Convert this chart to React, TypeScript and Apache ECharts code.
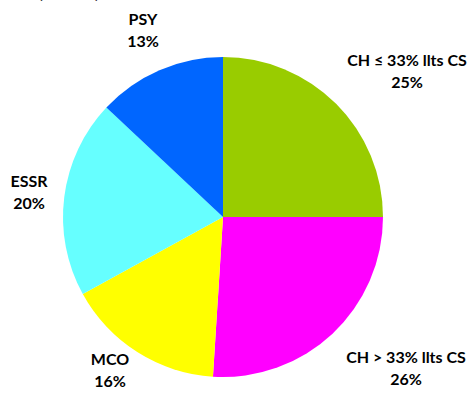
import React, { useEffect, useRef } from "react";
import * as echarts from "echarts";

const categories = ["CH ≤ 33% llts CS", "CH > 33% llts CS", "MCO", "ESSR", "PSY"];
const values = [25, 26, 16, 20, 13];
const colors = ["#99CC00", "#FF00FF", "#FFFF00", "#66FFFF", "#0066FF"];
const labelPos: [number, number][] = [
  [407, 70],
  [406, 367],
  [110, 369],
  [29, 191],
  [143, 29],
];

export default function App() {
  const ref = useRef<HTMLDivElement>(null);
  useEffect(() => {
    if (!ref.current) return;
    const chart = echarts.init(ref.current, undefined, { renderer: "svg" });
    chart.setOption({
      animation: false,
      backgroundColor: "#ffffff",
      graphic: [
        {
          type: "text",
          left: 38,
          top: -18,
          style: {
            text: "(n=151)",
            fontFamily: "Lato",
            fontWeight: "bold",
            fontSize: 18,
            fill: "#000",
          },
        },
      ],
      series: [
        {
          type: "pie",
          center: [223, 217],
          radius: 160,
          startAngle: 90,
          clockwise: true,
          avoidLabelOverlap: false,
          data: categories.map((c, i) => ({
            name: c,
            value: values[i],
            itemStyle: { color: colors[i] },
          })),
          label: {
            show: true,
            position: "outside",
            formatter: (p: any) => `${p.name}\n${p.value}%`,
            fontFamily: "Lato",
            fontWeight: "bold",
            fontSize: 16,
            lineHeight: 22,
            color: "#000",
            align: "center",
          },
          labelLine: { show: false },
          labelLayout: (p: any) => ({
            x: labelPos[p.dataIndex][0],
            y: labelPos[p.dataIndex][1],
            align: "center",
            verticalAlign: "middle",
          }),
          emphasis: { disabled: true },
        },
      ],
    });
    return () => chart.dispose();
  }, []);
  return (
    <div
      ref={ref}
      style={{ position: "fixed", left: 0, top: 0, width: 469, height: 403 }}
    />
  );
}
